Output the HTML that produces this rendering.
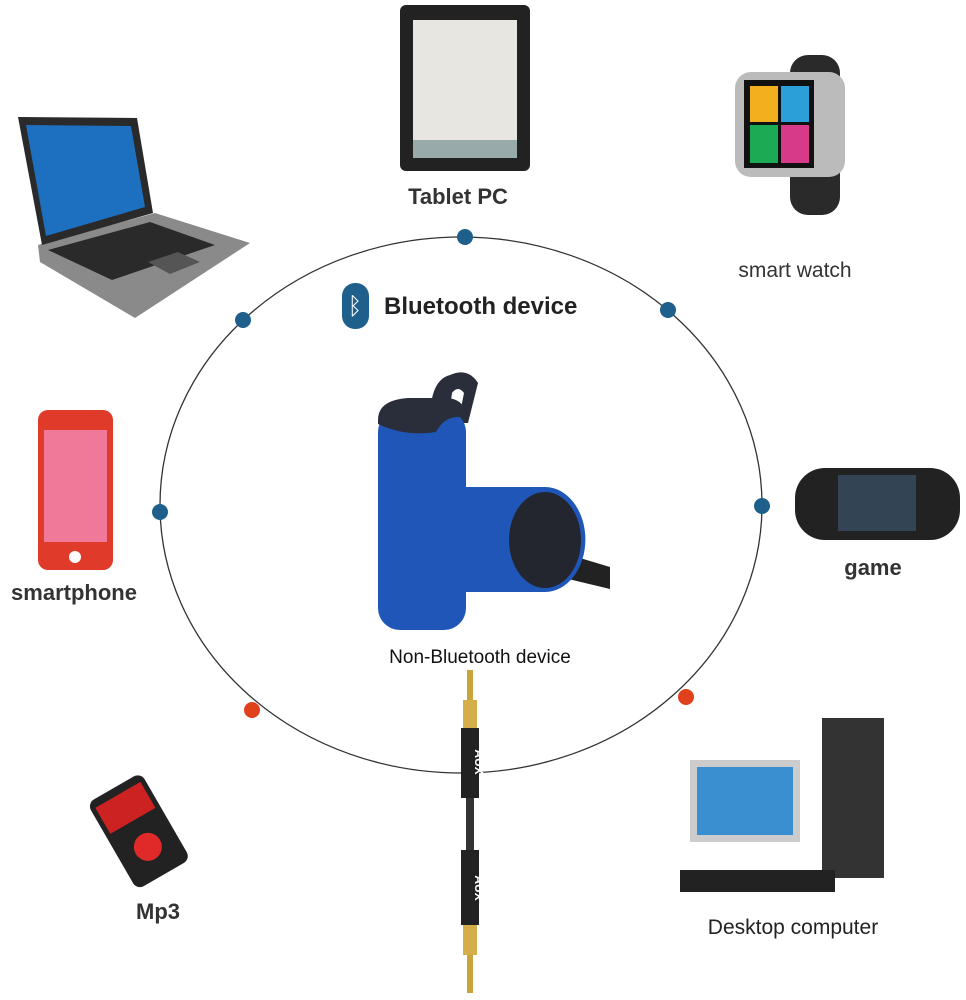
<!DOCTYPE html>
<html><head><meta charset="utf-8"><style>
html,body{margin:0;padding:0;background:#fff;width:966px;height:1000px;overflow:hidden}
svg{display:block}
text{font-family:"Liberation Sans",sans-serif}
</style></head><body>
<svg width="966" height="1000" viewBox="0 0 966 1000">
<ellipse cx="461" cy="505" rx="301" ry="268" fill="none" stroke="#333" stroke-width="1.3"/>
<g fill="#1f5f8b">
<circle cx="465" cy="237" r="8"/><circle cx="243" cy="320" r="8"/><circle cx="668" cy="310" r="8"/>
<circle cx="160" cy="512" r="8"/><circle cx="762" cy="506" r="8"/></g>
<g fill="#e0401c"><circle cx="252" cy="710" r="8"/><circle cx="686" cy="697" r="8"/></g>

<!-- laptop -->
<polygon points="38,245 155,213 250,243 135,318 40,262" fill="#8a8a8a"/>
<polygon points="48,250 150,222 215,245 112,280" fill="#2a2a2a"/>
<polygon points="148,262 178,252 200,262 170,274" fill="#555"/>
<polygon points="18,117 137,118 153,213 42,245" fill="#2a2a2a"/>
<polygon points="26,125 131,126 145,207 46,236" fill="#1d6fc0"/>
<!-- tablet -->
<rect x="400" y="5" width="130" height="166" rx="6" fill="#222"/>
<rect x="413" y="20" width="104" height="138" fill="#e8e6e0"/>
<rect x="413" y="140" width="104" height="18" fill="#9aa"/>
<text x="458" y="204" font-size="22" font-weight="bold" fill="#333" text-anchor="middle">Tablet PC</text>
<!-- watch -->
<rect x="790" y="55" width="50" height="160" rx="18" fill="#2a2a2a"/>
<rect x="735" y="72" width="110" height="105" rx="16" fill="#bbb"/>
<rect x="744" y="80" width="70" height="88" fill="#111"/>
<rect x="750" y="86" width="28" height="36" fill="#f2b01f"/><rect x="781" y="86" width="28" height="36" fill="#2a9fd8"/>
<rect x="750" y="125" width="28" height="38" fill="#1daa54"/><rect x="781" y="125" width="28" height="38" fill="#d83a8a"/>
<text x="795" y="277" font-size="21" fill="#333" text-anchor="middle">smart watch</text>
<!-- bluetooth -->
<rect x="342" y="283" width="27" height="46" rx="13" fill="#1f5f8b"/>
<text x="355" y="314" font-size="24" fill="#fff" text-anchor="middle">ᛒ</text>
<text x="384" y="314" font-size="24" font-weight="bold" fill="#222">Bluetooth device</text>
<!-- speaker -->
<path d="M560,552 l50,15 v22 l-50,-12 z" fill="#222"/>
<path d="M450,487 h95 a40,52 0 0 1 0,105 h-95 z" fill="#1f56b8"/>
<ellipse cx="545" cy="540" rx="36" ry="48" fill="#23262f"/>
<path d="M430,420 q0,-40 20,-45 q18,-8 28,8 l-10,40 h-10 l6,-30 q-6,-8 -12,0 l-4,30 z" fill="#2a2d3a"/>
<rect x="378" y="410" width="88" height="220" rx="22" fill="#1f56b8"/>
<path d="M378,420 q0,-20 30,-22 l40,0 q18,2 18,20 q-20,-5 -30,14 q-30,5 -58,-8 z" fill="#2a2d3a"/>
<text x="480" y="663" font-size="19" fill="#111" text-anchor="middle">Non-Bluetooth device</text>
<!-- smartphone -->
<rect x="38" y="410" width="75" height="160" rx="10" fill="#e03a2a"/>
<rect x="44" y="430" width="63" height="112" fill="#f07898"/>
<circle cx="75" cy="557" r="6" fill="#fff"/>
<text x="74" y="600" font-size="22" font-weight="bold" fill="#333" text-anchor="middle">smartphone</text>
<!-- game -->
<rect x="795" y="468" width="165" height="72" rx="30" fill="#222"/>
<rect x="838" y="475" width="78" height="56" fill="#345"/>
<text x="873" y="575" font-size="22" font-weight="bold" fill="#333" text-anchor="middle">game</text>
<!-- mp3 -->
<g transform="rotate(-30 137 830)"><rect x="107" y="782" width="62" height="100" rx="8" fill="#222"/>
<rect x="112" y="790" width="52" height="30" fill="#c22"/><circle cx="138" cy="850" r="14" fill="#e02a2a"/></g>
<text x="158" y="919" font-size="22" font-weight="bold" fill="#333" text-anchor="middle">Mp3</text>
<!-- desktop -->
<rect x="690" y="760" width="110" height="82" fill="#ccc"/>
<rect x="697" y="767" width="96" height="68" fill="#3a8fd0"/>
<rect x="822" y="718" width="62" height="160" fill="#333"/>
<rect x="680" y="870" width="155" height="22" fill="#222"/>
<text x="793" y="934" font-size="21" fill="#222" text-anchor="middle">Desktop computer</text>
<!-- cable -->
<rect x="467" y="670" width="6" height="30" fill="#c9a33b"/>
<rect x="463" y="700" width="14" height="30" fill="#d4ae48"/>
<rect x="461" y="728" width="18" height="70" fill="#222"/>
<rect x="466" y="798" width="8" height="52" fill="#333"/>
<rect x="461" y="850" width="18" height="75" fill="#222"/>
<rect x="463" y="925" width="14" height="30" fill="#d4ae48"/>
<rect x="467" y="955" width="6" height="38" fill="#c9a33b"/>
<text transform="translate(475,762) rotate(90)" font-size="12" font-weight="bold" fill="#fff" text-anchor="middle">AUX</text>
<text transform="translate(475,888) rotate(90)" font-size="12" font-weight="bold" fill="#fff" text-anchor="middle">AUX</text>
</svg>
</body></html>
